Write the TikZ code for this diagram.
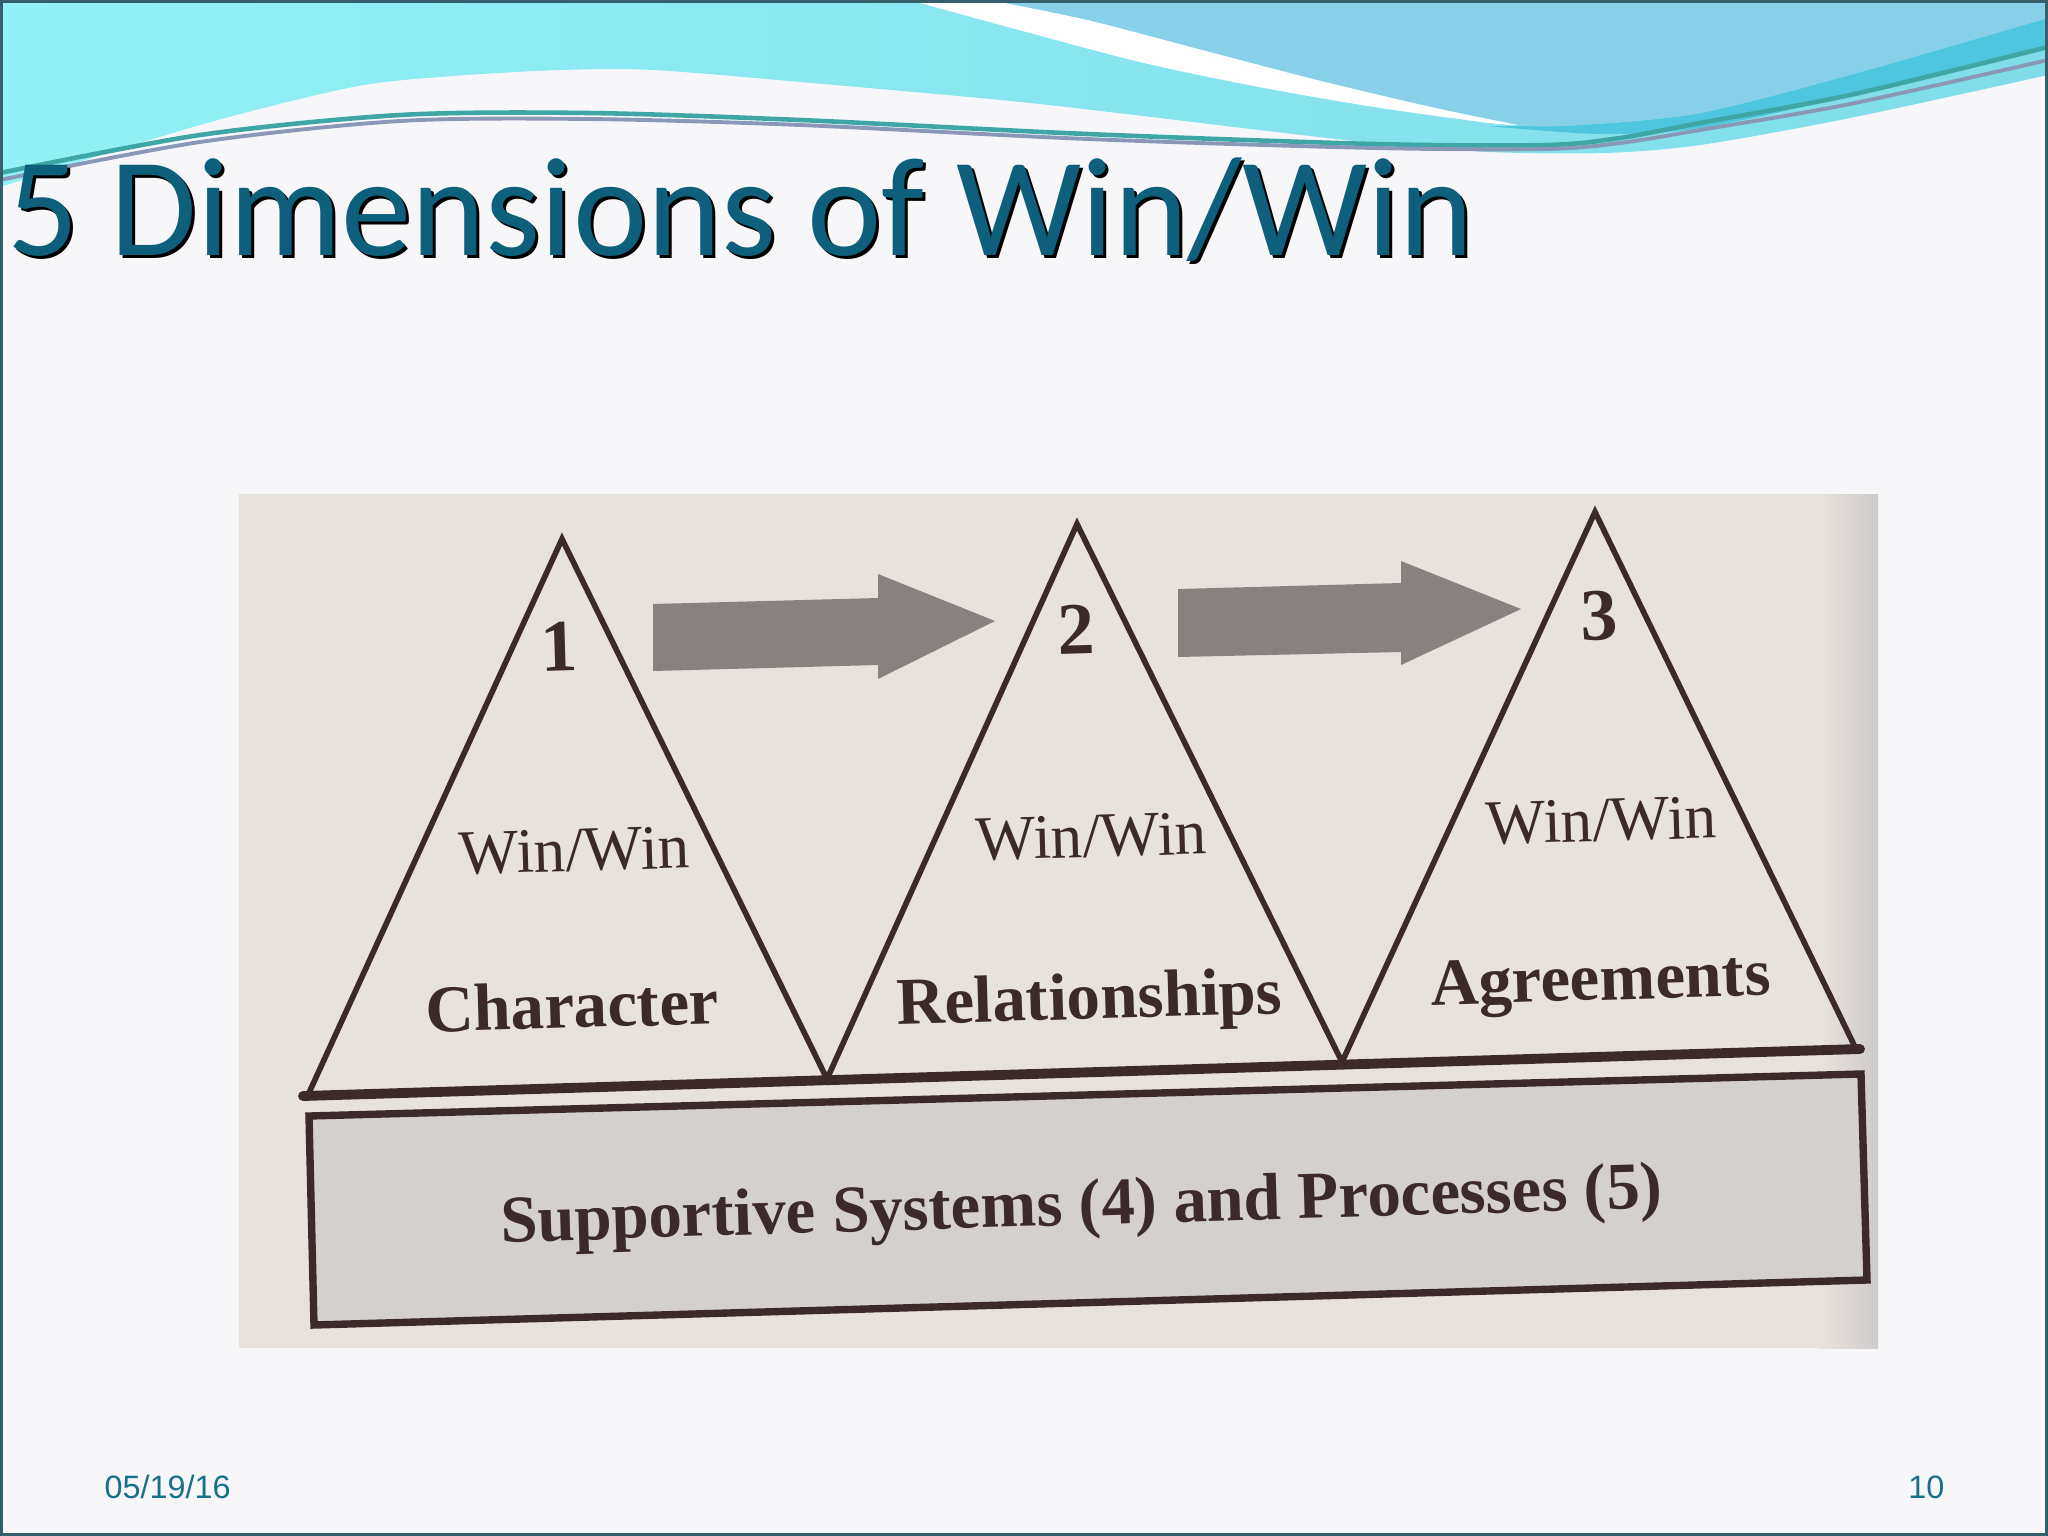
\documentclass[tikz,border=0pt]{standalone}
\usepackage{fontspec}
\setmainfont{Liberation Serif}
\newfontfamily\titlefont{Carlito}
\newfontfamily\footfont{Liberation Sans}
\definecolor{slidebg}{HTML}{F7F7F9}
\definecolor{cyanL}{HTML}{92F0F6}
\definecolor{cyanR}{HTML}{80DCEA}
\definecolor{blueR}{HTML}{88CFEA}
\definecolor{cyanD}{HTML}{4FC6DF}
\definecolor{lineA}{HTML}{3FA6A6}
\definecolor{lineB}{HTML}{8A98B8}
\definecolor{titlec}{HTML}{0E5F7B}
\definecolor{footc}{HTML}{18708C}
\definecolor{framec}{HTML}{355F6B}
\definecolor{photoc}{HTML}{E8E2DC}
\definecolor{photoR}{HTML}{CFCBCB}
\definecolor{inkc}{HTML}{3C2A2A}
\definecolor{rectfill}{HTML}{D3D0CE}
\definecolor{arrowc}{HTML}{878180}
\begin{document}
\begin{tikzpicture}[x=0.01cm,y=-0.01cm,
  tri/.style={draw=inkc, line width=1.6pt, line join=miter},
  baseln/.style={draw=inkc, line width=2.8pt, line cap=round},
  rectb/.style={draw=inkc, line width=2.1pt, fill=rectfill, line join=miter},
  blockarrow/.style={fill=arrowc},
  numlbl/.style={text=inkc, inner sep=0pt, anchor=base, rotate=1.7, font=\bfseries\fontsize{21}{24}\selectfont},
  winlbl/.style={text=inkc, inner sep=0pt, anchor=base, rotate=1.7, font=\fontsize{18}{22}\selectfont},
  namelbl/.style={text=inkc, inner sep=0pt, anchor=base, rotate=1.7, font=\bfseries\fontsize{19}{23}\selectfont},
  footlbl/.style={text=footc, inner sep=0pt, font=\footfont\fontsize{9.2}{11}\selectfont},
  titlelbl/.style={inner sep=0pt, anchor=base west, font=\titlefont\fontsize{40}{48}\selectfont}
]
\useasboundingbox (0,0) rectangle (2048,1536);
% slide background
\fill[slidebg] (0,0) rectangle (2048,1536);
% header waves
\shade[left color=cyanL, right color=cyanR] (0,0) -- (2048,0) -- plot[smooth] coordinates {(2048,75) (1850,118) (1700,145) (1604,153) (1489,152) (1374,143) (1259,130) (1030,103) (800,82) (653,70) (562,70) (453,76) (353,87) (200,125) (0,187)} -- cycle;
\fill[cyanD] plot[smooth] coordinates {(1489,126) (1600,134) (1700,128) (1850,96) (2048,47)} -- (2048,18) -- plot[smooth] coordinates {(2048,18) (1850,75) (1700,113) (1580,125) (1489,126)} -- cycle;
\fill[blueR] (989,0) -- (2048,0) -- plot[smooth] coordinates {(2048,18) (1850,75) (1700,113) (1580,125) (1518,125) (1431,107) (1317,80) (1202,50) (1087,20) (989,0)} -- cycle;
\fill[white] plot[smooth] coordinates {(909,0) (1030,33) (1144,63) (1259,87) (1374,107) (1489,123) (1518,125)} -- plot[smooth] coordinates {(1518,125) (1431,107) (1317,80) (1202,50) (1087,20) (989,0)} -- cycle;
\draw[lineA, line width=1.3pt] plot[smooth] coordinates {(0,173) (200,135) (400,115) (588,113) (800,120) (1087,134) (1374,144) (1546,145) (1620,138) (1700,123) (1850,95) (2048,47)};
\draw[lineB, line width=1.1pt] plot[smooth] coordinates {(0,180) (200,142) (400,121) (588,119) (800,125) (1087,139) (1374,148) (1546,149) (1620,143) (1700,130) (1850,104) (2048,60)};
% title
\node[titlelbl, text=black] (titleshadow) at (10,258) {5 Dimensions of Win/Win};
\node[titlelbl, text=titlec] (title) at (7,255) {5 Dimensions of Win/Win};
% photo background
\fill[photoc] (239,494) rectangle (1820,1348);
\shade[left color=photoc, right color=photoR] (1820,494) rectangle (1878,1348);
% block arrows
\fill[blockarrow] (653,604) -- (878,598) -- (878,574) -- (995,621) -- (878,679) -- (878,665) -- (653,671) -- cycle;
\fill[blockarrow] (1178,589) -- (1401,583) -- (1401,561) -- (1521,609) -- (1401,665) -- (1401,652) -- (1178,657) -- cycle;
% triangles
\coordinate (t1a) at (562,539);
\coordinate (t1l) at (308,1095);
\coordinate (t1r) at (827,1079);
\coordinate (t2a) at (1077,524);
\coordinate (t2r) at (1342,1062);
\coordinate (t3a) at (1595,512);
\coordinate (t3r) at (1856,1049);
\coordinate (bl) at (303,1096);
\coordinate (br) at (1860,1049);
\draw[tri] (t1l) -- (t1a) -- (t1r) -- (t2a) -- (t2r) -- (t3a) -- (t3r);
\draw[baseln] (bl) -- (br);
% support rectangle
\coordinate (r1) at (309,1116);
\coordinate (r2) at (1861,1074);
\coordinate (r3) at (1867,1280);
\coordinate (r4) at (314,1325);
\draw[rectb] (r1) -- (r2) -- (r3) -- (r4) -- cycle;
\draw[inkc, line width=1.2pt] (r4) -- (r3);
% labels
\node[numlbl] (n1) at (560,671) {1};
\node[numlbl] (n2) at (1077,654) {2};
\node[numlbl] (n3) at (1600,640) {3};
\node[winlbl] (w1) at (575,871) {Win/Win};
\node[winlbl] (w2) at (1092,857) {Win/Win};
\node[winlbl] (w3) at (1602,841) {Win/Win};
\node[namelbl] (c1) at (573,1028) {Character};
\node[namelbl] (c2) at (1090,1019) {Relationships};
\node[namelbl] (c3) at (1601,1000) {Agreements};
\node[namelbl] (sup) at (1082,1225) {Supportive Systems (4) and Processes (5)};
% footer
\node[footlbl, anchor=base west] (date) at (104,1498) {05/19/16};
\node[footlbl, anchor=base east] (page) at (1945,1498) {10};
% slide frame
\draw[framec, line width=1.2pt] (1,1) rectangle (2047,1535);
\end{tikzpicture}
\end{document}
